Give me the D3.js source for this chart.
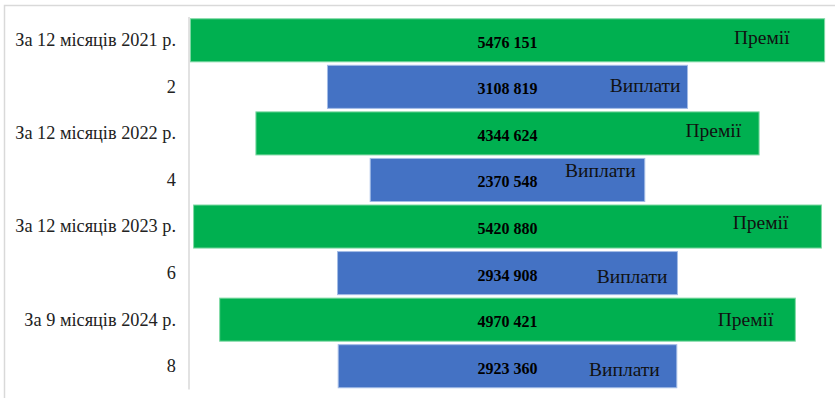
<!doctype html>
<html>
<head>
    <meta charset="utf-8">
    <title>Премії та виплати</title>
    <script src='https://d3js.org/d3.v7.min.js'></script>
    <style>
        body { margin: 0; background: #fff; }
        text { font-family: 'Liberation Serif', 'DejaVu Serif', 'Times New Roman', serif; }
    </style>
</head>
<body>
<svg></svg>
</body>
<script>

    // data
    var categories = ['За 12 місяців 2021 р.', '2', 'За 12 місяців 2022 р.', '4',
                      'За 12 місяців 2023 р.', '6', 'За 9 місяців 2024 р.', '8'];
    var values = [5476151, 3108819, 4344624, 2370548, 5420880, 2934908, 4970421, 2923360];
    var seriesNames = ['Премії', 'Виплати', 'Премії', 'Виплати', 'Премії', 'Виплати', 'Премії', 'Виплати'];

    // the name labels were dragged by hand in the original, nudge them (dx from bar end, dy from centre)
    var nameNudge = [[-35, -3], [-7, -1], [-18, -3], [-9, -9], [-33, -4], [-10, 3], [-22, 0], [-17, 3]];

    var colors = { 'Премії': '#00B050', 'Виплати': '#4472C4' };
    var strokes = { 'Премії': '#7fd9a4', 'Виплати': '#a3bce6' };

    var svgWidth = 835, svgHeight = 398;

    var svg = d3.select('svg')
        .attr('width', svgWidth)
        .attr('height', svgHeight);

    // chart frame
    svg.append('rect')
        .attr('x', 4.5).attr('y', 5.5)
        .attr('width', 840).attr('height', 400)
        .attr('fill', 'none')
        .attr('stroke', '#d9d9d9')
        .attr('stroke-width', 1.5);

    var half = 2750000;
    var xScale = d3.scaleLinear()
        .domain([-half, half])
        .range([189, 826]);

    var yScale = d3.scaleBand()
        .domain(d3.range(categories.length))
        .range([17, 389.5])
        .paddingInner(0.075)
        .paddingOuter(0.0375);

    var rows = values.map(function (v, i) { return { i: i, v: v, s: seriesNames[i] }; });

    svg.selectAll('rect.bar')
        .data(rows)
        .enter()
        .append('rect')
        .attr('class', 'bar')
        .attr('x', function (d) { return xScale(-d.v / 2); })
        .attr('width', function (d) { return xScale(d.v / 2) - xScale(-d.v / 2); })
        .attr('y', function (d) { return yScale(d.i); })
        .attr('height', yScale.bandwidth())
        .attr('fill', function (d) { return colors[d.s]; })
        .attr('stroke', function (d) { return strokes[d.s]; })
        .attr('stroke-width', 1);

    // values in the middle, written like "5476 151"
    function fmt(v) {
        var hi = Math.floor(v / 1000), lo = v % 1000;
        return hi + ' ' + d3.format('03d')(lo);
    }

    svg.selectAll('text.val')
        .data(rows)
        .enter()
        .append('text')
        .attr('class', 'val')
        .attr('x', xScale(0))
        .attr('y', function (d) { return yScale(d.i) + yScale.bandwidth() / 2 + 2; })
        .attr('text-anchor', 'middle')
        .attr('dominant-baseline', 'central')
        .attr('font-size', 16)
        .attr('font-weight', 'bold')
        .attr('fill', '#000')
        .text(function (d) { return fmt(d.v); });

    // series names near the bar end
    svg.selectAll('text.name')
        .data(rows)
        .enter()
        .append('text')
        .attr('class', 'name')
        .attr('x', function (d) { return xScale(d.v / 2) + nameNudge[d.i][0]; })
        .attr('y', function (d) { return yScale(d.i) + yScale.bandwidth() / 2 + nameNudge[d.i][1]; })
        .attr('text-anchor', 'end')
        .attr('dominant-baseline', 'central')
        .attr('font-size', 19.5)
        .attr('fill', '#111')
        .text(function (d) { return d.s; });

    // y axis
    var y_axis = d3.axisLeft(yScale)
        .tickSize(0)
        .tickPadding(13)
        .tickFormat(function (i) { return categories[i]; });

    var gy = svg.append('g')
        .attr('transform', 'translate(189,0)')
        .call(y_axis);

    gy.select('.domain')
        .attr('d', 'M0,17V389.5')
        .attr('stroke', '#d9d9d9')
        .attr('stroke-width', 1.5);

    gy.selectAll('text')
        .attr('font-size', 18.3)
        .attr('fill', '#222')
        .style('font-family', "'Liberation Serif', 'DejaVu Serif', 'Times New Roman', serif");

</script>
</html>
